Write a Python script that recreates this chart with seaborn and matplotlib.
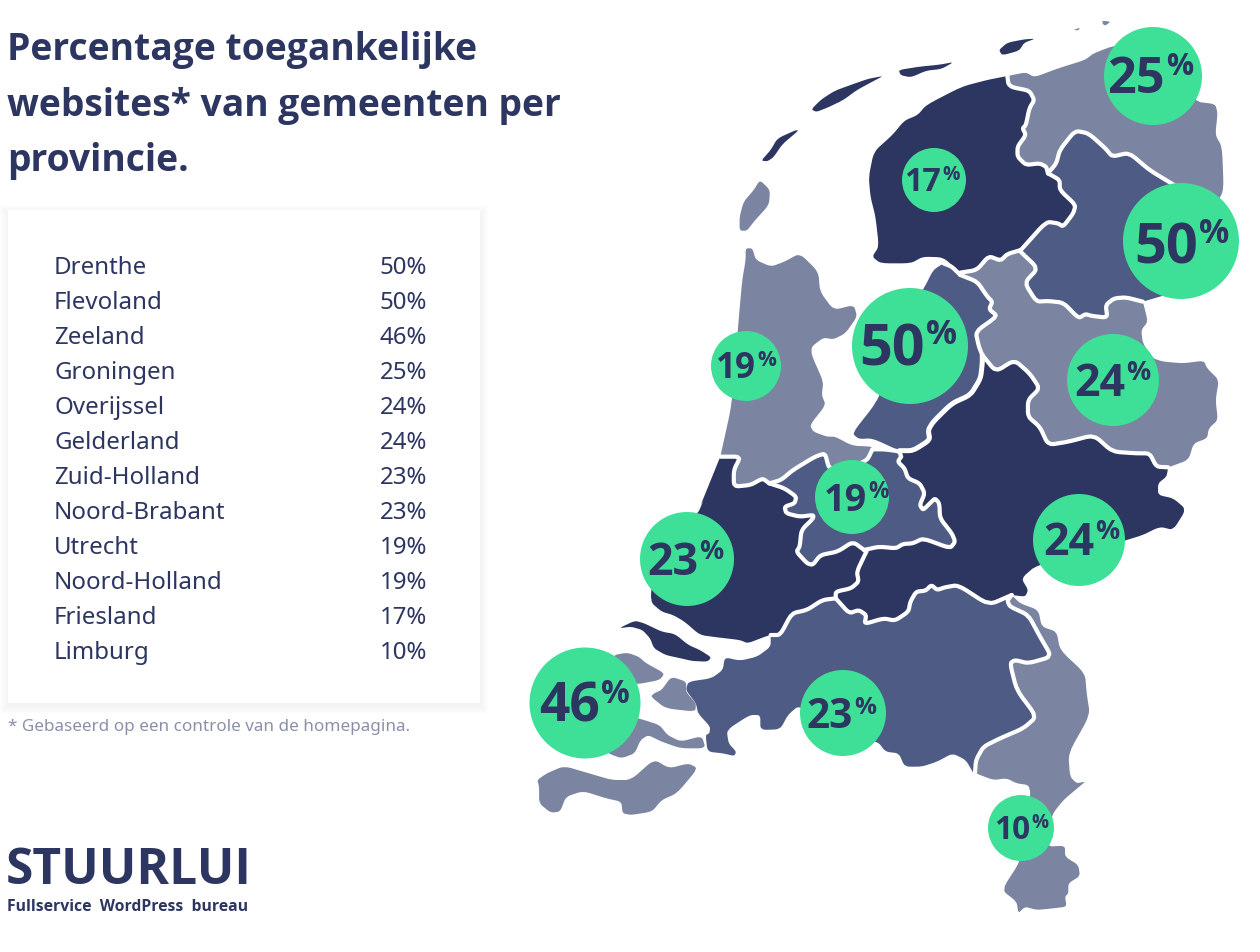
import matplotlib
matplotlib.use("Agg")
import matplotlib.pyplot as plt
from matplotlib.patches import Rectangle
import seaborn as sns
import pandas as pd

sns.set_theme(style="white")
FONT = "Noto Sans"
BOLD = "Open Sans"
plt.rcParams["font.family"] = [FONT, "DejaVu Sans"]

DARK, MID, LIGHT = "#2D3561", "#4E5B85", "#7B84A1"
GREEN = "#3EE097"

# ---- values ----
table_names = ["Drenthe", "Flevoland", "Zeeland", "Groningen", "Overijssel", "Gelderland",
               "Zuid-Holland", "Noord-Brabant", "Utrecht", "Noord-Holland", "Friesland", "Limburg"]
table_values = [50, 50, 46, 25, 24, 24, 23, 23, 19, 19, 17, 10]

bubble_x = [1181, 910, 585, 1153, 1113, 1079, 687, 843, 852, 746, 934, 1021]
bubble_y = [241, 346, 703, 76, 380, 540, 559, 713, 497, 366, 180, 828]
bubble_r = [58, 58, 55.5, 49, 46, 46, 47, 43, 37, 35, 32, 33]
label_split = [1198, 925, 600, 1165, 1125, 1094, 698, 853, 867, 756, 941, 1030]
label_base = [263, 365, 722, 93, 396, 555, 575, 728, 511, 378, 191, 839]
label_h = [40, 41, 38, 36, 32, 32, 32, 29, 27, 25, 23, 22.5]

def crop(ox, oy, sx, sy):
    return lambda pts: [(ox + x / sx, oy + y / sy) for x, y in pts]
Z1 = crop(720, 0, 2.958, 3)
Z2 = crop(700, 240, 2.958, 3)
Z3 = crop(520, 500, 2.613, 3)
Z4 = crop(900, 580, 3, 3)

def smooth(pts, n=2, closed=False, k=0.17):
    for _ in range(n):
        out = [] if closed else [pts[0]]
        m = len(pts) if closed else len(pts) - 1
        for i in range(m):
            a, b = pts[i], pts[(i + 1) % len(pts)]
            out.append(((1 - k) * a[0] + k * b[0], (1 - k) * a[1] + k * b[1]))
            out.append((k * a[0] + (1 - k) * b[0], k * a[1] + (1 - k) * b[1]))
        if not closed:
            out.append(pts[-1])
        pts = out
    return pts

def S(p):
    return smooth(p)
def R(p):
    return p[::-1]

F_G = S(Z1([(850,228),(853,252),(865,262),(915,272),(930,300),(915,325),(905,375),(895,385),(905,405),(880,440),(880,470),(905,495),(945,490),(965,500),(970,520)]))
G_D = S(Z1([(970,520),(995,490),(1005,450),(1050,392),(1090,400),(1140,445),(1160,470),(1210,458),(1270,510),(1335,550),(1400,590),(1440,640)]))
F_D = S(Z1([(970,520),(1005,540),(1005,570),(1052,615),(1045,640),(1015,680),(1000,670),(965,665),(890,750)]))
F_O = S(Z1([(890,750),(850,762),(830,782),(795,768),(760,810),(710,818)]))
D_O = S(Z2([(945,32),(1000,85),(960,128),(995,185),(1030,183),(1075,188),(1120,235),(1140,222),(1160,228),(1205,233),(1200,195),(1225,175),(1260,172),(1310,185)]))
Fl_top = S(Z2([(720,70),(745,80),(770,105)]))
Fl_O = S(Z2([(770,105),(820,125),(850,170),(865,185),(855,208),(880,228),(815,275),(825,320),(835,345)]))
Fl_Ge = S(Z2([(835,345),(835,370),(830,415),(800,465),(745,490),(690,545),(675,570),(680,600),(630,632),(590,632)]))
O_Ge = S(Z2([(835,345),(875,395),(930,360),(975,400),(1005,445),(970,480),(970,530),(1005,560),(1030,615),(1090,605),(1165,585),(1220,635),(1290,640),(1330,640),(1350,680),(1385,682)]))
U_Fl = S(Z2([(510,628),(545,628),(590,634),(595,650)]))
U_Ge = S(Z2([(595,650),(585,665),(605,685),(615,715),(650,730),(665,760),(650,795),(660,810),(680,790),(695,775),(708,790),(710,835),(745,880),(755,905),(740,925),(660,895),(630,910),(600,912),(580,925),(530,920),(485,930)]))
Ge_ZH = S(Z3([(905,155),(880,215),(885,245),(865,265),(825,275),(825,295)]))
Ge_NB = S(Z3([(1285,285),(1225,315),(1145,255),(1110,262),(1090,270),(1075,255),(1060,272),(1035,275),(1020,305),(1015,335),(980,362),(950,355),(900,372),(905,345),(885,330),(860,340),(825,295)]))
ZH_NB = S(Z3([(825,295),(790,300),(750,330),(710,340),(680,405),(655,405)]))
L_NB = S(Z4([(335,45),(322,62),(330,80),(385,105),(420,170),(455,230),(385,250),(345,240),(330,250),(350,330),(410,410),(370,445),(300,475),(250,500),(228,540),(225,578)]))
NH_U = S(Z2([(510,628),(495,660),(450,680),(390,685),(380,680),(370,640),(340,650),(275,690),(240,720),(205,730)]))
NH_ZH = S(Z2([(60,650),(120,650),(100,690),(100,740),(150,735),(185,715),(205,730)]))
U_ZH = S(Z2([(205,730),(250,745),(285,770),(280,790),(250,800),(255,820),(295,830),(335,825),(335,835),(300,870),(295,920),(285,935)]) + Z3([(750,190),(765,195),(785,165),(830,155),(870,125),(905,155)]))

F_coast = S(Z1([(700,808),(660,772),(600,770),(565,790),(475,790),(450,770),(470,740),(460,650),(445,590),(440,530),(455,455),(510,405),(545,362),(585,345),(610,315),(715,260),(790,240),(850,228)]))
G_coast = S(Z1([(865,225),(905,217),(930,232),(1000,205),(1080,180),(1105,160),(1170,135),(1300,150),(1405,305),(1465,312),(1472,340),(1465,405),(1485,440),(1490,570),(1470,610),(1440,640)]))
D_east = Z1([(1440,640),(1400,860),(1251,905)])
O_east = S(Z2([(1310,185),(1325,245),(1305,270),(1310,310),(1340,355),(1370,365),(1430,370),(1490,362),(1500,385),(1535,420),(1525,480),(1532,540),(1505,565),(1500,595),(1460,610),(1445,660),(1385,682)]))
Fl_coast = S(Z2([(590,632),(510,595),(470,597),(450,580),(520,490),(560,400),(600,250),(665,140),(690,90),(720,70)]))
Ge_east = S(Z2([(1385,682),(1380,710),(1355,730),(1355,765),(1400,775),(1438,808),(1400,870),(1360,860),(1300,890)]) + Z3([(1350,195),(1310,235),(1328,270),(1320,290),(1285,285)]))
NH_coast = S(Z2([(60,650),(95,490),(115,230),(125,120),(135,60),(135,25),(155,25),(165,60),(210,80),(250,65),(295,40),(350,95),(355,155),(395,210),(455,195),(465,230),(430,280),(395,298),(365,293),(330,320),(330,345),(365,425),(360,465),(372,495),(325,555),(335,575),(375,590),(400,590),(450,617),(510,620),(510,628)]))
ZH_coast = S(Z3([(655,405),(640,410),(595,430),(575,420),(515,412),(470,405),(430,365),(400,345),(370,335),(340,305),(350,200),(420,80),(465,40),(480,0)]) + Z2([(0,800),(40,700),(60,650)]))
NB_coast = S(Z3([(655,405),(655,440),(620,470),(575,482),(535,472),(530,510),(500,535),(440,545),(433,570),(460,610),(465,640),(497,680),(495,700),(485,705),(490,755),(530,760),(560,768),(565,755),(545,730),(540,690),(600,645),(628,645),(628,690),(680,688),(700,645),(730,615),(840,700),(935,725),(955,755),(990,760),(1005,800),(1050,800),(1090,785),(1130,760),(1165,780),(1185,820)]))
L_coast = S(Z4([(225,578),(240,585),(280,600),(320,595),(350,610),(385,615),(392,640),(370,780),(360,845),(305,930),(350,965),(355,1000),(375,980),(410,990),(460,985),(500,980),(495,950),(505,940),(505,910),(540,888),(535,855),(495,830),(495,797),(440,800),(455,705),(490,660),(550,610),(555,605),(530,610),(510,590),(505,520),(570,405),(560,340),(555,280),(480,210),(470,155),(425,140),(415,90),(360,70),(335,45)]))

provinces = [
    (F_G + F_D + F_O + F_coast, DARK),
    (G_coast + R(G_D) + R(F_G)[:-1], LIGHT),
    (G_D + D_east + R(D_O) + R(F_D), MID),
    (R(F_O) + D_O + O_east + R(O_Ge) + R(Fl_O), LIGHT),
    (Fl_top + Fl_O + Fl_Ge + Fl_coast, MID),
    (O_Ge + Ge_east + Ge_NB + R(Ge_ZH) + R(U_Ge) + R(Fl_Ge), DARK),
    (U_Fl + U_Ge + R(U_ZH) + R(NH_U), MID),
    (NH_coast + NH_U + R(NH_ZH), LIGHT),
    (ZH_coast + NH_ZH + U_ZH + Ge_ZH + ZH_NB, DARK),
    (Ge_NB + ZH_NB + NB_coast + R(L_NB), MID),
    (L_NB + L_coast, LIGHT),
]
islands = [
    (Z1([(118,540),(148,570),(145,615),(100,665),(80,692),(58,692),(58,650),(70,605),(100,570)]), LIGHT),
    (Z1([(232,392),(185,432),(158,472),(140,484),(122,482),(150,450),(170,415),(225,390)]), DARK),
    (Z1([(483,228),(460,240),(405,270),(365,300),(320,322),(285,336),(270,328),(300,298),(340,272),(400,250),(440,236)]), DARK),
    (Z1([(692,186),(655,207),(610,212),(565,232),(535,226),(528,210),(590,200),(650,194)]), DARK),
    (Z1([(933,116),(900,128),(885,152),(835,166),(825,150),(850,128),(900,118)]), DARK),
    (Z1([(1131,62),(1155,65),(1140,77),(1132,72)]), LIGHT),
    (Z1([(1045,90),(1065,83),(1060,91)]), LIGHT),
    (Z3([(258,385),(300,362),(325,370),(370,395),(405,402),(440,435),(470,450),(500,472),(490,485),(450,483),(420,475),(380,465),(350,445),(340,415),(320,390),(290,380)]), DARK),
    (Z3([(245,465),(280,458),(310,470),(330,490),(378,520),(365,540),(310,552),(280,550),(240,500)]), LIGHT),
    (Z3([(395,530),(435,545),(433,575),(460,610),(458,635),(380,625),(342,590),(350,580),(370,570)]), LIGHT),
    (Z3([(250,640),(310,655),(365,675),(385,705),(420,725),(475,708),(485,745),(420,745),(370,725),(335,705),(315,720),(300,760),(265,775),(230,760),(170,700)]), LIGHT),
    (Z3([(45,840),(70,820),(115,798),(180,820),(240,840),(290,840),(350,778),(390,805),(440,790),(465,805),(410,880),(370,900),(345,935),(290,945),(268,940),(265,905),(225,895),(165,873),(120,890),(105,935),(80,938),(50,910),(50,860)]), LIGHT),
]
white_lines = [F_G, G_D, F_D, F_O, D_O, Fl_top, Fl_O, O_Ge, U_Fl, U_Ge, Ge_ZH, Ge_NB,
               ZH_NB, L_NB, NH_U, NH_ZH, U_ZH]

fig = plt.figure(figsize=(12.6, 9.52), dpi=100, facecolor="white")
ax = fig.add_axes([0, 0, 1, 1])
ax.set_xlim(0, 1260)
ax.set_ylim(952, 0)
ax.axis("off")

for poly, col in provinces:
    ax.fill(*zip(*poly), color=col, lw=0, zorder=2)
for poly, col in islands:
    ax.fill(*zip(*smooth(poly, 2, closed=True)), color=col, lw=0, zorder=2)
for line in white_lines:
    ax.plot(*zip(*line), color="white", lw=3.0, solid_capstyle="round", solid_joinstyle="round", zorder=3)
ax.plot(*zip(*Fl_Ge), color="white", lw=3.6, solid_capstyle="round", zorder=3)

bubbles = pd.DataFrame({"x": bubble_x, "y": bubble_y, "size": [(2 * r * 0.72) ** 2 for r in bubble_r]})
sns.scatterplot(data=bubbles, x="x", y="y", s=bubbles["size"].values, color=GREEN, linewidth=0,
                ax=ax, zorder=4, legend=False)
ax.set_xlabel("")
ax.set_ylabel("")
ax.set_xlim(0, 1260)
ax.set_ylim(952, 0)

for v, sx, by, h in zip(table_values, label_split, label_base, label_h):
    fs = h / 0.714 * 0.72
    ax.text(sx, by, str(v), ha="right", va="baseline", fontsize=fs, fontweight="bold", family=BOLD, color=DARK, zorder=5)
    ax.text(sx + 1, by - 0.5 * h, "%", ha="left", va="baseline", fontsize=fs * 0.6, fontweight="bold", family=BOLD, color=DARK, zorder=5)

# title
for line, y in zip(["Percentage toegankelijke", "websites* van gemeenten per", "provincie."], [60, 116, 171]):
    ax.text(7, y, line, ha="left", va="baseline", fontsize=26.8, fontweight="bold", family=BOLD, color=DARK)

# card with soft shadow
for i in range(12):
    grow = 12 - i
    ax.add_patch(Rectangle((8 - grow * 0.7, 210 + 3 - grow * 0.7), 472 + grow * 1.4, 493 + grow * 1.4,
                           facecolor="black", alpha=0.005, lw=0, zorder=0.5))
ax.add_patch(Rectangle((8, 210), 472, 493, facecolor="white", lw=0, zorder=1))
for i, (n, v) in enumerate(zip(table_names, table_values)):
    y = 265 + i * 35
    ax.text(54, y, n, ha="left", va="center_baseline", fontsize=17.3, color=DARK, zorder=2)
    ax.text(427, y, f"{v}%", ha="right", va="center_baseline", fontsize=17.3, color=DARK, zorder=2)

ax.text(8, 731, "* Gebaseerd op een controle van de homepagina.", ha="left", va="baseline", fontsize=12.3, color="#8A90AA")
ax.text(6, 884, "STUURLUI", ha="left", va="baseline", fontsize=35.7, fontweight="bold", family=BOLD, color=DARK)
ax.text(7, 911, "Fullservice  WordPress  bureau", ha="left", va="baseline", fontsize=11.35, fontweight="bold", family=BOLD, color=DARK)

fig.savefig("out.png", dpi=100, facecolor="white")
